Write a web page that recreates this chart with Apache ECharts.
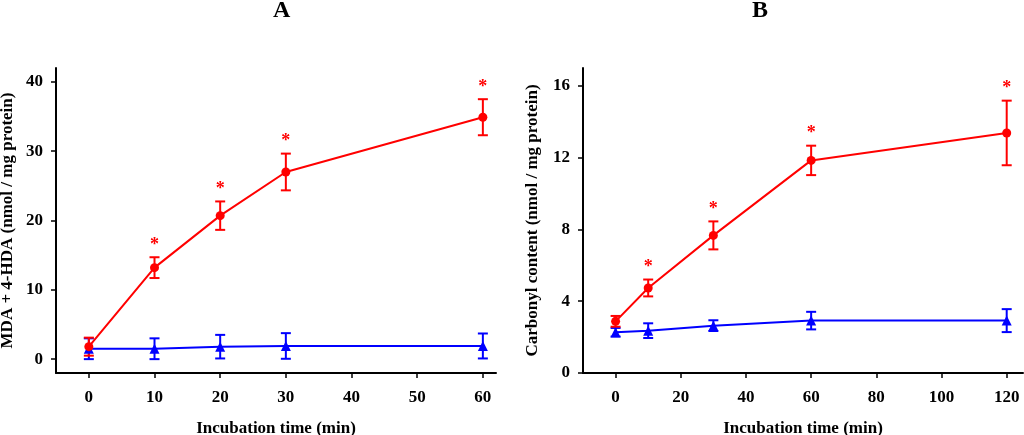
<!DOCTYPE html>
<html>
<head>
<meta charset="utf-8">
<script src="https://cdn.jsdelivr.net/npm/echarts@6/dist/echarts.min.js"></script>
<style>
html,body{margin:0;padding:0;background:#fff;}
#c{width:1024px;height:435px;}
</style>
</head>
<body>
<div id="c"></div>
<script>
// ---- Data ----
const timesA = [0, 10, 20, 30, 60];
const mdaTreated = [1.8, 13.2, 20.7, 27.0, 34.9];
const mdaTreatedErr = [1.3, 1.5, 2.05, 2.65, 2.6];
const mdaControl = [1.5, 1.5, 1.8, 1.9, 1.9];
const mdaControlErr = [1.5, 1.5, 1.7, 1.85, 1.8];
const sigA = [false, true, true, true, true];

const timesB = [0, 10, 30, 60, 120];
const carbTreated = [2.88, 4.74, 7.67, 11.85, 13.38];
const carbTreatedErr = [0.3, 0.47, 0.78, 0.82, 1.8];
const carbControl = [2.27, 2.36, 2.64, 2.92, 2.92];
const carbControlErr = [0.24, 0.41, 0.3, 0.49, 0.64];
const sigB = [false, true, true, true, true];

const xTicksA = [0, 10, 20, 30, 40, 50, 60];
const yTicksA = [0, 10, 20, 30, 40];
const xTicksB = [0, 20, 40, 60, 80, 100, 120];
const yTicksB = [0, 4, 8, 12, 16];

const titleA = 'A';
const titleB = 'B';
const xNameAll = 'Incubation time (min)';
const yNameA = 'MDA + 4-HDA (nmol / mg protein)';
const yNameB = 'Carbonyl content (nmol / mg protein)';

// ---- Helpers ----
const FONT = "'Liberation Serif', 'DejaVu Serif', serif";
const RED = '#ff0000';
const BLUE = '#0000ff';

function zipPts(xs, ys) { return xs.map((x, i) => [x, ys[i]]); }
function errData(xs, ys, es, sig) { return xs.map((x, i) => [x, ys[i], es[i], sig ? (sig[i] ? 1 : 0) : 0]); }

function errRender(color) {
  return function (params, api) {
    const x = api.value(0), y = api.value(1), e = api.value(2), s = api.value(3);
    const top = api.coord([x, y + e]);
    const bot = api.coord([x, y - e]);
    const hw = 5;
    const st = { stroke: color, lineWidth: 2 };
    const children = [
      { type: 'line', shape: { x1: top[0], y1: top[1], x2: bot[0], y2: bot[1] }, style: st },
      { type: 'line', shape: { x1: top[0] - hw, y1: top[1], x2: top[0] + hw, y2: top[1] }, style: st },
      { type: 'line', shape: { x1: bot[0] - hw, y1: bot[1], x2: bot[0] + hw, y2: bot[1] }, style: st }
    ];
    if (s) {
      children.push({
        type: 'text',
        style: {
          text: '*', x: top[0], y: top[1] - 12,
          fill: color, font: 'bold 18px ' + FONT,
          align: 'center', verticalAlign: 'middle'
        }
      });
    }
    return { type: 'group', children: children };
  };
}

function xAxisCfg(gi, min, max, ticks) {
  return {
    type: 'value', gridIndex: gi, min: min, max: max,
    name: xNameAll, nameLocation: 'middle', nameGap: 47,
    nameTextStyle: { fontFamily: FONT, fontWeight: 'bold', fontSize: 17, color: '#000' },
    axisLine: { show: true, onZero: false, lineStyle: { color: '#000', width: 2 } },
    axisTick: { show: true, length: 5, inside: false, customValues: ticks, lineStyle: { color: '#000', width: 1.5 } },
    axisLabel: { customValues: ticks, margin: 16, fontFamily: FONT, fontWeight: 'bold', fontSize: 17, color: '#000' },
    splitLine: { show: false }
  };
}
function yAxisCfg(gi, min, max, ticks, name, gap) {
  return {
    type: 'value', gridIndex: gi, min: min, max: max,
    name: name, nameLocation: 'middle', nameGap: gap, nameRotate: 90,
    nameTextStyle: { fontFamily: FONT, fontWeight: 'bold', fontSize: 17, color: '#000' },
    axisLine: { show: true, onZero: false, lineStyle: { color: '#000', width: 2 } },
    axisTick: { show: true, length: 5, inside: false, customValues: ticks, lineStyle: { color: '#000', width: 1.5 } },
    axisLabel: { customValues: ticks, margin: 13, fontFamily: FONT, fontWeight: 'bold', fontSize: 17, color: '#000' },
    splitLine: { show: false }
  };
}

function lineSeries(xi, pts, color, symbol) {
  return {
    type: 'line', xAxisIndex: xi, yAxisIndex: xi, data: pts,
    symbol: symbol, symbolSize: symbol === 'circle' ? 9 : 10,
    showAllSymbol: true,
    lineStyle: { color: color, width: 2 },
    itemStyle: { color: color },
    z: 3, silent: true, animation: false
  };
}
function errSeries(xi, data, color) {
  return {
    type: 'custom', xAxisIndex: xi, yAxisIndex: xi, data: data,
    renderItem: errRender(color), z: 2, silent: true, animation: false,
    encode: { x: 0, y: 1 }
  };
}

const chart = echarts.init(document.getElementById('c'), null, { renderer: 'canvas' });
chart.setOption({
  animation: false,
  backgroundColor: '#fff',
  title: [
    { text: titleA, left: 273, top: -1, padding: 0, textStyle: { fontFamily: FONT, fontWeight: 'bold', fontSize: 24, color: '#000' } },
    { text: titleB, left: 752, top: -1, padding: 0, textStyle: { fontFamily: FONT, fontWeight: 'bold', fontSize: 24, color: '#000' } }
  ],
  grid: [
    { left: 56, right: 528, top: 68, bottom: 62, containLabel: false, outerBoundsMode: 'none' },
    { left: 583, right: 1, top: 68, bottom: 62, containLabel: false, outerBoundsMode: 'none' }
  ],
  xAxis: [
    xAxisCfg(0, -5, 62, xTicksA),
    xAxisCfg(1, -10, 125, xTicksB)
  ],
  yAxis: [
    yAxisCfg(0, -2, 42, yTicksA, yNameA, 40),
    yAxisCfg(1, 0, 17, yTicksB, yNameB, 42)
  ],
  series: [
    errSeries(0, errData(timesA, mdaControl, mdaControlErr, null), BLUE),
    errSeries(0, errData(timesA, mdaTreated, mdaTreatedErr, sigA), RED),
    lineSeries(0, zipPts(timesA, mdaControl), BLUE, 'triangle'),
    lineSeries(0, zipPts(timesA, mdaTreated), RED, 'circle'),
    errSeries(1, errData(timesB, carbControl, carbControlErr, null), BLUE),
    errSeries(1, errData(timesB, carbTreated, carbTreatedErr, sigB), RED),
    lineSeries(1, zipPts(timesB, carbControl), BLUE, 'triangle'),
    lineSeries(1, zipPts(timesB, carbTreated), RED, 'circle')
  ]
});
</script>
</body>
</html>
